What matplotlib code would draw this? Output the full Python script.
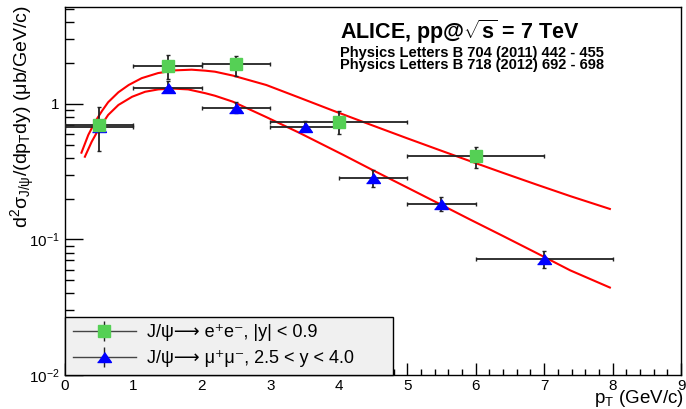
import matplotlib
matplotlib.use("Agg")
import matplotlib.pyplot as plt
from matplotlib.lines import Line2D
from matplotlib.legend_handler import HandlerTuple
from matplotlib.ticker import MultipleLocator, LogLocator, NullFormatter, FixedLocator, FixedFormatter

plt.rcParams['font.family'] = ['Liberation Sans', 'DejaVu Sans']
plt.rcParams['mathtext.fontset'] = 'custom'
plt.rcParams['mathtext.rm'] = 'Liberation Sans'
plt.rcParams['mathtext.bf'] = 'Liberation Sans:bold'
plt.rcParams['mathtext.default'] = 'regular'

# ---- data: J/psi -> e+e-, |y|<0.9
pt_ee = [0.5, 1.5, 2.5, 4.0, 6.0]
pt_ee_xerr = [0.5, 0.5, 0.5, 1.0, 1.0]
sig_ee = [0.70, 1.92, 1.96, 0.74, 0.41]
sig_ee_up = [0.25, 0.36, 0.30, 0.14, 0.07]
sig_ee_dn = [0.25, 0.38, 0.35, 0.14, 0.072]

# ---- data: J/psi -> mu+mu-, 2.5<y<4.0
pt_mm = [0.5, 1.5, 2.5, 3.5, 4.5, 5.5, 7.0]
pt_mm_xerr = [0.5, 0.5, 0.5, 0.5, 0.5, 0.5, 1.0]
sig_mm = [0.68, 1.32, 0.94, 0.68, 0.286, 0.183, 0.0713]
sig_mm_up = [0.04, 0.15, 0.10, 0.07, 0.037, 0.022, 0.011]
sig_mm_dn = [0.04, 0.10, 0.08, 0.04, 0.042, 0.020, 0.010]

# ---- fit curves
fit_ee_x = [0.24, 0.34, 0.44, 0.54, 0.63, 0.78, 0.93, 1.12, 1.36, 1.61, 1.85, 2.05, 2.19, 2.45,
            2.94, 3.43, 3.92, 4.50, 4.99, 5.48, 5.96, 6.40, 6.89, 7.38, 7.96]
fit_ee_y = [0.437, 0.591, 0.740, 0.888, 1.03, 1.22, 1.38, 1.55, 1.69, 1.77, 1.79, 1.76, 1.73, 1.62,
            1.38, 1.11, 0.891, 0.692, 0.560, 0.455, 0.372, 0.310, 0.254, 0.209, 0.168]
fit_mm_x = [0.29, 0.39, 0.49, 0.63, 0.78, 0.98, 1.17, 1.36, 1.56, 1.80, 2.05, 2.19, 2.45, 2.94,
            3.43, 4.06, 4.50, 4.99, 5.48, 5.91, 6.40, 6.89, 7.38, 7.96]
fit_mm_y = [0.408, 0.527, 0.650, 0.830, 0.983, 1.13, 1.23, 1.28, 1.30, 1.28, 1.20, 1.15, 1.04, 0.80,
            0.61, 0.422, 0.324, 0.243, 0.182, 0.141, 0.106, 0.0794, 0.0592, 0.0442]

x_ticks = [0, 1, 2, 3, 4, 5, 6, 7, 8, 9]
y_ticks = [0.01, 0.1, 1]
y_tick_labels = ['10$^{-2}$', '10$^{-1}$', '1']

legend_labels = ['J/ψ⟶ e⁺e⁻, |y| < 0.9', 'J/ψ⟶ μ⁺μ⁻, 2.5 < y < 4.0']

fig = plt.figure(figsize=(6.86, 4.09), dpi=100)
ax = fig.add_axes([0.0948, 0.0831, 0.898, 0.900])

ax.plot(fit_ee_x, fit_ee_y, color='#ff0000', lw=1.5, zorder=2)
ax.plot(fit_mm_x, fit_mm_y, color='#ff0000', lw=1.5, zorder=2)

tri = [(-1, -0.72), (1, -0.72), (0, 0.72)]
ax.errorbar(pt_mm, sig_mm, xerr=pt_mm_xerr, yerr=[sig_mm_dn, sig_mm_up],
            fmt='none', ecolor='#222222', elinewidth=1.3, capsize=1.6, capthick=1.0, zorder=3)
ax.plot(pt_mm, sig_mm, linestyle='none', marker=tri, ms=10, color='#0000ff', zorder=4)
ax.errorbar(pt_ee, sig_ee, xerr=pt_ee_xerr, yerr=[sig_ee_dn, sig_ee_up],
            fmt='none', ecolor='#222222', elinewidth=1.3, capsize=1.6, capthick=1.0, zorder=5)
ax.plot(pt_ee, sig_ee, linestyle='none', marker='s', ms=9.3, color='#55d055', zorder=6)

# legend handles
hline = Line2D([], [], color='#444444', lw=1.0)
vbar = Line2D([], [], color='#222222', marker='|', ms=15, mew=1.0, linestyle='none')
mk_ee = Line2D([], [], marker='s', ms=9.3, color='#55d055', linestyle='none')
mk_mm = Line2D([], [], marker=tri, ms=10, color='#0000ff', linestyle='none')
leg = ax.legend([(hline, vbar, mk_ee), (hline, vbar, mk_mm)], legend_labels,
                handler_map={tuple: HandlerTuple(ndivide=1, pad=0)},
                loc='lower left', bbox_to_anchor=(0.0, 0.0, 0.532, 0.155), mode='expand',
                borderaxespad=0, fancybox=False, framealpha=1, facecolor='#f0f0f0',
                edgecolor='black', fontsize=13, handlelength=3.5, handletextpad=0.6,
                labelspacing=0.5, borderpad=0.42)
leg.get_frame().set_linewidth(1.0)

ax.set_xlim(0, 9)
ax.set_ylim(0.01, 5.2)
ax.set_yscale('log')
ax.set_xticks(x_ticks)
ax.xaxis.set_minor_locator(MultipleLocator(0.2))
ax.yaxis.set_major_locator(FixedLocator(y_ticks))
ax.yaxis.set_major_formatter(FixedFormatter(y_tick_labels))
ax.yaxis.set_minor_locator(LogLocator(base=10, subs=[2, 3, 4, 5, 6, 7, 8, 9]))
ax.yaxis.set_minor_formatter(NullFormatter())

ax.tick_params(axis='x', which='major', direction='in', length=9, width=1, labelsize=11, pad=3, top=False)
ax.tick_params(axis='x', which='minor', direction='in', length=4.5, width=1, top=False)
ax.tick_params(axis='y', which='major', direction='in', length=13, width=1, labelsize=11, pad=4, right=False)
ax.tick_params(axis='y', which='minor', direction='in', length=6.5, width=1, right=False)
for s in ax.spines.values():
    s.set_linewidth(1.0)

ax.set_ylabel(r'd$^{2}$σ$_{J/\psi}$/(dp$_{T}$dy) (μb/GeV/c)', fontsize=14, loc='top')
ax.yaxis.set_label_coords(-0.046, 1.005)
ax.set_xlabel(r'p$_{T}$ (GeV/c)', fontsize=13.5, loc='right')
ax.xaxis.set_label_coords(1.004, -0.034)

ax.text(0.4464, 0.912, r'ALICE, pp@$\mathbf{\sqrt{s}}$ = 7 TeV', transform=ax.transAxes,
        fontsize=15.5, fontweight='bold', ha='left', va='baseline')
ax.text(0.4464, 0.864, 'Physics Letters B 704 (2011) 442 - 455', transform=ax.transAxes,
        fontsize=10.5, fontweight='bold', ha='left', va='baseline')
ax.text(0.4464, 0.830, 'Physics Letters B 718 (2012) 692 - 698', transform=ax.transAxes,
        fontsize=10.5, fontweight='bold', ha='left', va='baseline')

fig.savefig('out.png', dpi=100)
